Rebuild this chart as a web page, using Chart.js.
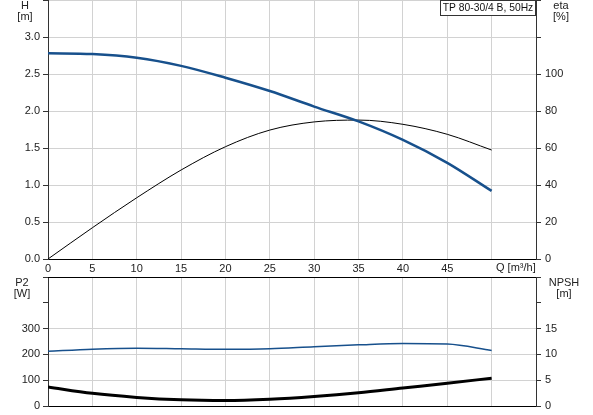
<!DOCTYPE html>
<html>
<head>
<meta charset="utf-8">
<script src="https://cdn.jsdelivr.net/npm/chart.js@4"></script>
<style>
  body { margin: 0; background: #fff; }
  canvas { position: absolute; left: 0; }
  #top { top: 0; }
  #bottom { top: 277px; }
</style>
</head>
<body>
<canvas id="top" width="593" height="277"></canvas>
<canvas id="bottom" width="593" height="138"></canvas>
<script>
// Q [m3/h]
const flow = [0, 5, 10, 15, 20, 25, 30, 35, 40, 45, 50];
const head = [2.78, 2.77, 2.72, 2.61, 2.45, 2.27, 2.06, 1.86, 1.61, 1.30, 0.92];
const eta = [0, 16.9, 33.1, 48.1, 60.7, 69.7, 74.1, 75.1, 72.8, 67.4, 58.9];
const power = [212, 220, 224, 222, 220, 222, 230, 237, 242, 240, 215];
const npsh = [3.7, 2.45, 1.67, 1.21, 1.08, 1.33, 1.86, 2.58, 3.5, 4.4, 5.4];

const qTicks = [0, 5, 10, 15, 20, 25, 30, 35, 40, 45];
const hTicks = ["0.0", "0.5", "1.0", "1.5", "2.0", "2.5", "3.0"];
const etaTicks = [0, 20, 40, 60, 80, 100];
const p2Ticks = [0, 100, 200, 300];
const npshTicks = [0, 5, 10, 15];

const FONT = { family: "Liberation Sans, Arial, sans-serif", size: 11 };
const GRID = "#d2d2d2";
const AXIS = "#333";
const BLUE = "#17508c";

const pts = ys => flow.map((q, i) => ({ x: q, y: ys[i] }));

function fixWidth(w) {
    return s => { s.width = w; s.paddingTop = 0; s.paddingBottom = 0; };
}
function fixHeight(h) {
    return s => { s.height = h; s.paddingLeft = 0; s.paddingRight = 0; };
}

function labelTicks(list) {
    return v => {
        const i = list.findIndex(t => Number(t) === v);
        return i < 0 ? "" : String(list[i]);
    };
}

function text(ctx, str, x, y, align) {
    ctx.textAlign = align || "center";
    ctx.textBaseline = "middle";
    ctx.fillText(str, x, y);
}

const topTexts = {
    id: "topTexts",
    afterDraw(chart) {
        const ctx = chart.ctx;
        ctx.save();
        ctx.font = "11px " + FONT.family;
        ctx.fillStyle = "#222";
        text(ctx, "H", 25, 6);
        text(ctx, "[m]", 25, 17);
        text(ctx, "eta", 561, 6);
        text(ctx, "[%]", 561, 17);
        text(ctx, "Q [m³/h]", 496, 268, "left");
        ctx.fillStyle = "#fff";
        ctx.fillRect(440.5, 0.5, 95, 15);
        ctx.strokeStyle = "#333";
        ctx.lineWidth = 1;
        ctx.strokeRect(440.5, 0.5, 95, 15);
        ctx.fillStyle = "#111";
        ctx.font = "10.3px " + FONT.family;
        text(ctx, "TP 80-30/4 B, 50Hz", 488, 8);
        ctx.restore();
    }
};

const bottomTexts = {
    id: "bottomTexts",
    afterDraw(chart) {
        const ctx = chart.ctx;
        const a = chart.chartArea;
        ctx.save();
        ctx.strokeStyle = "#000";
        ctx.lineWidth = 1;
        ctx.beginPath();
        ctx.moveTo(a.left, 0.5);
        ctx.lineTo(a.right, 0.5);
        ctx.stroke();
        ctx.font = "11px " + FONT.family;
        ctx.fillStyle = "#222";
        text(ctx, "P2", 22, 6);
        text(ctx, "[W]", 22, 17);
        text(ctx, "NPSH", 564, 6);
        text(ctx, "[m]", 564, 17);
        ctx.restore();
    }
};

const xScale = (showLabels, h) => ({
    type: "linear", min: 0, max: 55,
    ticks: { stepSize: 5, display: showLabels, padding: 3, color: "#222", font: FONT,
             maxRotation: 0, autoSkip: false, callback: labelTicks(qTicks) },
    grid: { color: c => (c.tick.value > 50 ? "transparent" : GRID), drawTicks: false },
    border: { color: "#000" },
    afterFit: fixHeight(h)
});

const yScale = (max, step, list, pos, w, onArea, gridColor) => ({
    type: "linear", position: pos, min: 0, max: max,
    ticks: { stepSize: step, padding: pos === "left" ? 3 : 4, color: "#222", font: FONT,
             autoSkip: false, callback: labelTicks(list) },
    grid: { drawOnChartArea: onArea, color: gridColor || GRID, tickColor: AXIS, tickLength: 5 },
    border: { color: AXIS },
    afterFit: fixWidth(w)
});

const common = {
    responsive: false,
    animation: false,
    layout: { padding: 0 },
    plugins: { legend: { display: false }, tooltip: { enabled: false } },
    elements: { point: { radius: 0 }, line: { cubicInterpolationMode: "monotone" } }
};

new Chart(document.getElementById("top"), {
    type: "line",
    data: {
        datasets: [
            { data: pts(head), yAxisID: "y", borderColor: BLUE, borderWidth: 2.5 },
            { data: pts(eta), yAxisID: "y2", borderColor: "#000", borderWidth: 1 }
        ]
    },
    options: Object.assign({}, common, {
        scales: {
            x: xScale(true, 18),
            y: yScale(3.5, 0.5, hTicks, "left", 48, true),
            y2: yScale(140, 20, etaTicks, "right", 57, false)
        }
    }),
    plugins: [topTexts]
});

new Chart(document.getElementById("bottom"), {
    type: "line",
    data: {
        datasets: [
            { data: pts(power), yAxisID: "y", borderColor: BLUE, borderWidth: 1.5 },
            { data: pts(npsh), yAxisID: "y2", borderColor: "#000", borderWidth: 3 }
        ]
    },
    options: Object.assign({}, common, {
        scales: {
            x: xScale(false, 9),
            y: yScale(500, 100, p2Ticks, "left", 48, true,
                      c => (c.tick.value >= 400 ? "transparent" : GRID)),
            y2: yScale(25, 5, npshTicks, "right", 57, false)
        }
    }),
    plugins: [bottomTexts]
});
</script>
</body>
</html>
